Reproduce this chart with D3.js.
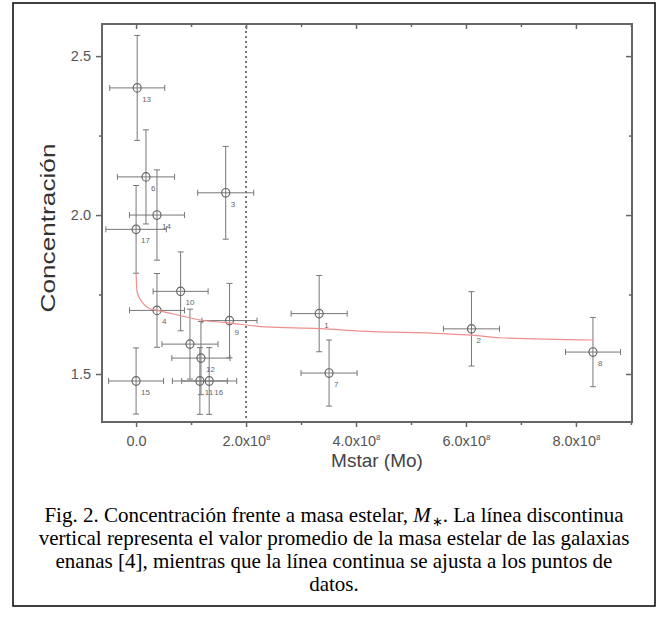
<!DOCTYPE html>
<html>
<head>
<meta charset="utf-8">
<script src="https://cdn.jsdelivr.net/npm/d3@7"></script>
<style>
  body { margin: 0; background: #fff; }
  svg { display: block; }
</style>
</head>
<body>
<svg id="chart" width="666" height="618"></svg>
<script>
// point labels as printed next to each marker
const pointLabels = ["13", "6", "14", "17", "3", "10", "4", "9", "", "12", "11", "16", "15", "1", "7", "2", "8"];
// stellar mass (Mo) and its error
const mstar    = [2e6, 1.8e7, 3.8e7, 0, 1.63e8, 8.1e7, 3.8e7, 1.70e8, 9.8e7, 1.18e8, 1.16e8, 1.33e8, 0, 3.33e8, 3.51e8, 6.10e8, 8.31e8];
const mstarErr = [5e7, 5.2e7, 5e7, 5.5e7, 5.1e7, 5e7, 5e7, 5e7, 5.1e7, 5.3e7, 5e7, 5e7, 5e7, 5.1e7, 5.1e7, 5.1e7, 5e7];
// concentration and its error
const conc     = [2.40, 2.12, 2.00, 1.955, 2.07, 1.76, 1.70, 1.668, 1.594, 1.55, 1.478, 1.478, 1.478, 1.69, 1.503, 1.642, 1.569];
const concErr  = [0.165, 0.148, 0.142, 0.138, 0.146, 0.124, 0.116, 0.117, 0.11, 0.115, 0.105, 0.105, 0.104, 0.12, 0.104, 0.117, 0.109];

// fitted curve
const fitMstar = [0, 1.8e6, 1.1e7, 2.3e7, 3.9e7, 7.7e7, 1.2e8, 1.68e8, 2.35e8, 3.35e8, 4.08e8, 5.59e8, 6.11e8, 6.62e8, 8.31e8];
const fitConc  = [1.815, 1.758, 1.726, 1.707, 1.700, 1.685, 1.669, 1.661, 1.648, 1.643, 1.635, 1.627, 1.622, 1.614, 1.607];

const meanDwarfMass = 2e8;

const xMajor = [0, 2e8, 4e8, 6e8, 8e8];
const xMinor = [1e8, 3e8, 5e8, 7e8, 9e8];
const yMajor = [1.5, 2.0, 2.5];
const yMinor = [1.75, 2.25];

const captionLines = [
  ["Fig. 2. Concentración frente a masa estelar, ", "M", "∗", ". La línea discontinua"],
  ["vertical representa el valor promedio de la masa estelar de las galaxias"],
  ["enanas [4], mientras que la línea continua se ajusta a los puntos de"],
  ["datos."]
];

const svg = d3.select("#chart");

// outer figure frame
svg.append("rect")
  .attr("x", 13).attr("y", 3).attr("width", 642).attr("height", 603)
  .attr("fill", "none").attr("stroke", "#111").attr("stroke-width", 1.6);

const plot = { left: 102, top: 24, right: 632, bottom: 422 };

const x = d3.scaleLinear().domain([-0.62e8, 9.02e8]).range([plot.left, plot.right]);
const y = d3.scaleLinear().domain([1.349, 2.601]).range([plot.bottom, plot.top]);

const axisColor = "#666";
const fontSans = "'Liberation Sans', Arial, Helvetica, sans-serif";

// ticks drawn with d3 axes
function fmtX(v) { return v === 0 ? "0.0" : (v / 1e8).toFixed(1) + "x10"; }

const bottomMajor = svg.append("g")
  .attr("transform", `translate(0,${plot.bottom})`)
  .call(d3.axisBottom(x).tickValues(xMajor).tickSize(5).tickSizeOuter(0).tickFormat(fmtX));
bottomMajor.selectAll("text")
  .attr("y", 14).attr("dy", "0.71em")
  .each(function(d) {
    if (d !== 0) d3.select(this).append("tspan").attr("dy", "-6").attr("font-size", "8px").text("8");
  });
svg.append("g")
  .attr("transform", `translate(0,${plot.bottom})`)
  .call(d3.axisBottom(x).tickValues(xMinor).tickSize(3).tickSizeOuter(0).tickFormat(""));

svg.append("g")
  .attr("transform", `translate(0,${plot.top})`)
  .call(d3.axisBottom(x).tickValues(xMajor).tickSize(5).tickSizeOuter(0).tickFormat(""));
svg.append("g")
  .attr("transform", `translate(0,${plot.top})`)
  .call(d3.axisBottom(x).tickValues(xMinor).tickSize(3).tickSizeOuter(0).tickFormat(""));

const leftMajor = svg.append("g")
  .attr("transform", `translate(${plot.left},0)`)
  .call(d3.axisLeft(y).tickValues(yMajor).tickSize(6).tickSizeOuter(0).tickFormat(d3.format(".1f")));
leftMajor.selectAll("text").attr("x", -11);
svg.append("g")
  .attr("transform", `translate(${plot.left},0)`)
  .call(d3.axisLeft(y).tickValues(yMinor).tickSize(3).tickSizeOuter(0).tickFormat(""));

svg.append("g")
  .attr("transform", `translate(${plot.right},0)`)
  .call(d3.axisLeft(y).tickValues(yMajor).tickSize(6).tickSizeOuter(0).tickFormat(""));
svg.append("g")
  .attr("transform", `translate(${plot.right},0)`)
  .call(d3.axisLeft(y).tickValues(yMinor).tickSize(3).tickSizeOuter(0).tickFormat(""));

svg.selectAll(".domain").remove();
svg.selectAll(".tick line").attr("stroke", axisColor).attr("stroke-width", 1.5);
svg.selectAll(".tick text")
  .attr("font-family", fontSans).attr("font-size", "14.5px").attr("fill", "#555");

// plot frame
svg.append("rect")
  .attr("x", plot.left).attr("y", plot.top)
  .attr("width", plot.right - plot.left).attr("height", plot.bottom - plot.top)
  .attr("fill", "none").attr("stroke", axisColor).attr("stroke-width", 2);

// dotted vertical line at the mean dwarf stellar mass
svg.append("line")
  .attr("x1", x(meanDwarfMass)).attr("x2", x(meanDwarfMass))
  .attr("y1", plot.top + 2).attr("y2", plot.bottom - 1)
  .attr("stroke", "#777").attr("stroke-width", 2).attr("stroke-dasharray", "2,3");

// error bars
const pts = d3.range(conc.length).map(i => ({
  label: pointLabels[i], m: mstar[i], me: mstarErr[i], c: conc[i], ce: concErr[i]
}));

const errColor = "#777";
const cap = 3;
const eb = svg.append("g").attr("stroke", errColor).attr("stroke-width", 1).attr("fill", "none");
pts.forEach(p => {
  const cx = x(p.m), cy = y(p.c);
  const x0 = x(p.m - p.me), x1 = x(p.m + p.me);
  const y0 = y(p.c + p.ce), y1 = y(p.c - p.ce);
  eb.append("line").attr("x1", x0).attr("x2", x1).attr("y1", cy).attr("y2", cy);
  eb.append("line").attr("x1", x0).attr("x2", x0).attr("y1", cy - cap).attr("y2", cy + cap);
  eb.append("line").attr("x1", x1).attr("x2", x1).attr("y1", cy - cap).attr("y2", cy + cap);
  eb.append("line").attr("x1", cx).attr("x2", cx).attr("y1", y0).attr("y2", y1);
  eb.append("line").attr("x1", cx - cap).attr("x2", cx + cap).attr("y1", y0).attr("y2", y0);
  eb.append("line").attr("x1", cx - cap).attr("x2", cx + cap).attr("y1", y1).attr("y2", y1);
});

// markers
svg.append("g").selectAll("ellipse")
  .data(pts).join("ellipse")
  .attr("cx", d => x(d.m)).attr("cy", d => y(d.c))
  .attr("rx", 4).attr("ry", 4.3)
  .attr("fill", "none").attr("stroke", "#666").attr("stroke-width", 1.2);

// point labels
svg.append("g").selectAll("text")
  .data(pts).join("text")
  .attr("x", d => x(d.m) + 5).attr("y", d => y(d.c) + 14)
  .attr("font-family", fontSans).attr("font-size", "8px").attr("fill", "#666")
  .text(d => d.label);

// fitted curve
const fit = fitMstar.map((m, i) => [m, fitConc[i]]);
svg.append("path")
  .datum(fit)
  .attr("d", d3.line().x(d => x(d[0])).y(d => y(d[1])).curve(d3.curveMonotoneX))
  .attr("fill", "none").attr("stroke", "#ee8f8f").attr("stroke-width", 1.2);

// axis titles
svg.append("text")
  .attr("x", (plot.left + plot.right) / 2 + 10).attr("y", 467)
  .attr("text-anchor", "middle")
  .attr("font-family", fontSans).attr("font-size", "19px").attr("fill", "#444")
  .text("Mstar (Mo)");

svg.append("text")
  .attr("transform", `translate(55,228) rotate(-90)`)
  .attr("text-anchor", "middle")
  .attr("font-family", fontSans).attr("font-size", "21px").attr("fill", "#333")
  .attr("textLength", 169).attr("lengthAdjust", "spacingAndGlyphs")
  .text("Concentración");

// caption
const cap0 = svg.append("g")
  .attr("font-family", "'Liberation Serif', 'Times New Roman', serif")
  .attr("font-size", "21px").attr("fill", "#000").attr("text-anchor", "middle");
captionLines.forEach((parts, i) => {
  const t = cap0.append("text").attr("x", 334).attr("y", 522 + i * 23);
  if (parts.length === 1) { t.text(parts[0]); return; }
  t.append("tspan").text(parts[0]);
  t.append("tspan").attr("font-style", "italic").text(parts[1]);
  t.append("tspan").attr("font-size", "13px").attr("dx", "1").attr("dy", "4").text(parts[2]);
  t.append("tspan").attr("dy", "-4").text(parts[3]);
});
</script>
</body>
</html>
